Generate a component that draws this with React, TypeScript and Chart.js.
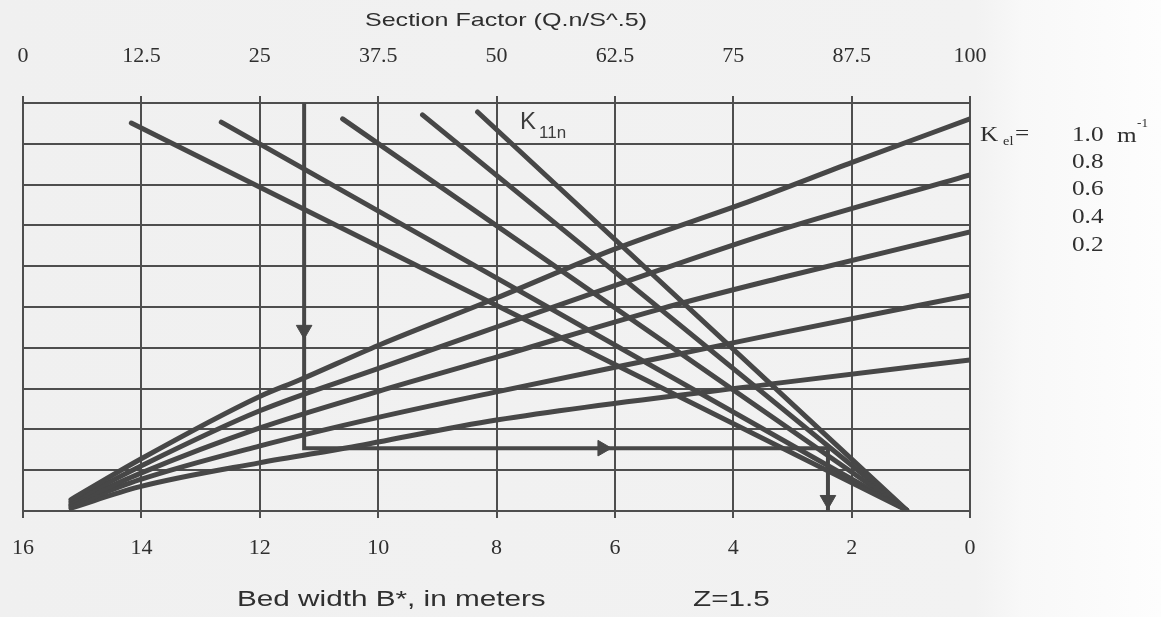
import React, { useEffect, useRef } from "react";
import { Chart, registerables } from "chart.js";

Chart.register(...registerables);

// ---- axes ----
const bedWidthTicks = [16, 14, 12, 10, 8, 6, 4, 2, 0];
const sectionFactorTicks = [0, 12.5, 25, 37.5, 50, 62.5, 75, 87.5, 100];
const rowTicks = [0, 1, 2, 3, 4, 5, 6, 7, 8, 9, 10];

// ---- rising curves (K_el), x = bed width B*, y = nomograph row units ----
const kLabels = ["1.0", "0.8", "0.6", "0.4", "0.2"];
const k10B = [15.19, 14.04, 12.01, 11.33, 9.98, 8.0, 6.04, 3.67, 1.98, 0];
const k10Y = [0.28, 1.25, 2.8, 3.21, 4.07, 5.22, 6.4, 7.62, 8.55, 9.61];
const k08B = [15.19, 14.04, 12.01, 9.98, 8.0, 5.24, 3.21, 0];
const k08Y = [0.22, 1.08, 2.45, 3.5, 4.51, 5.91, 6.89, 8.24];
const k06B = [15.19, 14.04, 12.01, 9.98, 8.0, 5.24, 3.21, 0];
const k06Y = [0.16, 0.91, 2.03, 2.94, 3.77, 4.95, 5.71, 6.84];
const k04B = [15.19, 14.04, 12.01, 9.98, 8.0, 5.24, 3.21, 0];
const k04Y = [0.12, 0.76, 1.59, 2.3, 2.92, 3.75, 4.36, 5.29];
const k02B = [15.19, 14.04, 12.01, 10.44, 8.0, 3.21, 0];
const k02Y = [0.07, 0.59, 1.18, 1.57, 2.23, 3.14, 3.7];

// ---- falling straight lines (section factor family) ----
const fallStartB = [14.17, 12.65, 10.6, 9.25, 8.32];
const fallStartY = [9.51, 9.53, 9.61, 9.71, 9.78];
const fallEndB = [1.07, 1.07, 1.07, 1.07, 1.07];
const fallEndY = [0.02, 0.02, 0.02, 0.02, 0.02];

// ---- worked example guide path + arrows ----
const guideB = [11.25, 11.25, 2.4, 2.4];
const guideY = [10, 1.54, 1.54, 0];
const arrowB = [11.25, 6.21, 2.4];
const arrowY = [4.44, 1.54, 0.27];
const arrowRot = [180, 90, 180];

const INK = "#474747";
const GRID = "#4e4e4e";
const TEXT = "#2f2f2f";
const SERIF = '"Liberation Serif", "Times New Roman", serif';
const SANS = '"Liberation Sans", Arial, sans-serif';

function pts(bs: number[], ys: number[]) {
  return bs.map((b, i) => ({ x: b, y: ys[i] }));
}

function drawStretched(
  ctx: CanvasRenderingContext2D,
  text: string,
  x: number,
  y: number,
  font: string,
  sx: number,
  align: CanvasTextAlign = "left",
  color: string = TEXT
) {
  ctx.save();
  ctx.translate(x, y);
  ctx.scale(sx, 1);
  ctx.font = font;
  ctx.fillStyle = color;
  ctx.textAlign = align;
  ctx.textBaseline = "middle";
  ctx.fillText(text, 0, 0);
  ctx.restore();
}

const textPlugin = {
  id: "nomoText",
  afterDraw(chart: any) {
    const ctx: CanvasRenderingContext2D = chart.ctx;
    drawStretched(ctx, "Section Factor (Q.n/S^.5)", 506, 21, `19px ${SANS}`, 1.32, "center");
    drawStretched(ctx, "Bed width B*, in meters", 237, 600, `22px ${SANS}`, 1.35);
    drawStretched(ctx, "Z=1.5", 693, 600, `22px ${SANS}`, 1.35);
    // legend of K values
    drawStretched(ctx, "K", 980, 135, `21px ${SERIF}`, 1.2);
    drawStretched(ctx, "el", 1003, 142, `12px ${SERIF}`, 1.2);
    drawStretched(ctx, "=", 1015, 134, `21px ${SERIF}`, 1.2);
    const ys = [135, 162, 189, 217, 245];
    kLabels.forEach((k, i) => drawStretched(ctx, k, 1072, ys[i], `21px ${SERIF}`, 1.2));
    drawStretched(ctx, "m", 1117, 136, `21px ${SERIF}`, 1.2);
    drawStretched(ctx, "-1", 1137, 124, `12px ${SERIF}`, 1.1);
    // handwritten annotation
    drawStretched(ctx, "K", 520, 122, `24px ${SANS}`, 1.0, "left", "#3d3d3d");
    drawStretched(ctx, "11n", 539, 133, `17px ${SANS}`, 1.0, "left", "#3d3d3d");
  },
};

export default function App() {
  const ref = useRef<HTMLCanvasElement | null>(null);

  useEffect(() => {
    document.body.style.margin = "0";
    const canvas = ref.current;
    if (!canvas) return;

    const curve = (bs: number[], ys: number[]) => ({
      data: pts(bs, ys),
      borderColor: INK,
      borderWidth: 5,
      borderCapStyle: "round" as const,
      pointRadius: 0,
      cubicInterpolationMode: "monotone" as const,
      fill: false,
    });

    const datasets: any[] = [
      curve(k10B, k10Y),
      curve(k08B, k08Y),
      curve(k06B, k06Y),
      curve(k04B, k04Y),
      curve(k02B, k02Y),
    ];
    fallStartB.forEach((b, i) => {
      datasets.push({
        data: [
          { x: b, y: fallStartY[i] },
          { x: fallEndB[i], y: fallEndY[i] },
        ],
        borderColor: INK,
        borderWidth: 5,
        borderCapStyle: "round",
        pointRadius: 0,
        tension: 0,
        fill: false,
      });
    });
    datasets.push({
      data: pts(guideB, guideY),
      borderColor: INK,
      borderWidth: 4,
      pointRadius: 0,
      tension: 0,
      fill: false,
    });
    datasets.push({
      data: pts(arrowB, arrowY),
      showLine: false,
      pointStyle: "triangle",
      pointRadius: 9,
      pointRotation: arrowRot,
      pointBackgroundColor: INK,
      pointBorderColor: INK,
      pointBorderWidth: 1,
    });

    const noSidePad = (s: any) => {
      s.paddingLeft = 0;
      s.paddingRight = 0;
    };

    const chart = new Chart(canvas, {
      type: "line",
      data: { datasets },
      plugins: [textPlugin],
      options: {
        animation: false,
        responsive: true,
        maintainAspectRatio: false,
        events: [],
        layout: { padding: { left: 23, right: 191, top: 0, bottom: 0 } },
        plugins: {
          legend: { display: false },
          tooltip: { enabled: false },
          title: { display: false },
        },
        scales: {
          x: {
            type: "linear",
            position: "bottom",
            min: 0,
            max: 16,
            reverse: true,
            afterBuildTicks: (s: any) => {
              s.ticks = bedWidthTicks.map((v) => ({ value: v }));
            },
            afterFit: (s: any) => {
              s.height = 106;
              noSidePad(s);
            },
            ticks: {
              padding: 17,
              maxRotation: 0,
              autoSkip: false,
              color: TEXT,
              font: { family: SERIF, size: 22 },
            },
            grid: { color: GRID, lineWidth: 2, tickLength: 7, drawTicks: true },
            border: { display: false },
          },
          x2: {
            type: "linear",
            position: "top",
            min: 0,
            max: 100,
            afterBuildTicks: (s: any) => {
              s.ticks = sectionFactorTicks.map((v) => ({ value: v }));
            },
            afterFit: (s: any) => {
              s.height = 103;
              noSidePad(s);
            },
            ticks: {
              padding: 27,
              maxRotation: 0,
              autoSkip: false,
              color: TEXT,
              font: { family: SERIF, size: 22 },
            },
            grid: { color: GRID, lineWidth: 2, tickLength: 7, drawOnChartArea: false, drawTicks: true },
            border: { display: false },
          },
          y: {
            type: "linear",
            min: 0,
            max: 10,
            afterBuildTicks: (s: any) => {
              s.ticks = rowTicks.map((v) => ({ value: v }));
            },
            afterFit: (s: any) => {
              s.width = 0;
            },
            ticks: { display: false },
            grid: { color: GRID, lineWidth: 2, drawTicks: false },
            border: { display: false },
          },
        },
      },
    });
    return () => chart.destroy();
  }, []);

  return (
    <div
      style={{
        position: "absolute",
        left: 0,
        top: 0,
        width: 1161,
        height: 617,
        background:
          "linear-gradient(to right, #f0f0f0 0%, #f2f2f2 84%, #f8f8f8 88%, #fdfdfd 100%)",
      }}
    >
      <canvas ref={ref} />
    </div>
  );
}
